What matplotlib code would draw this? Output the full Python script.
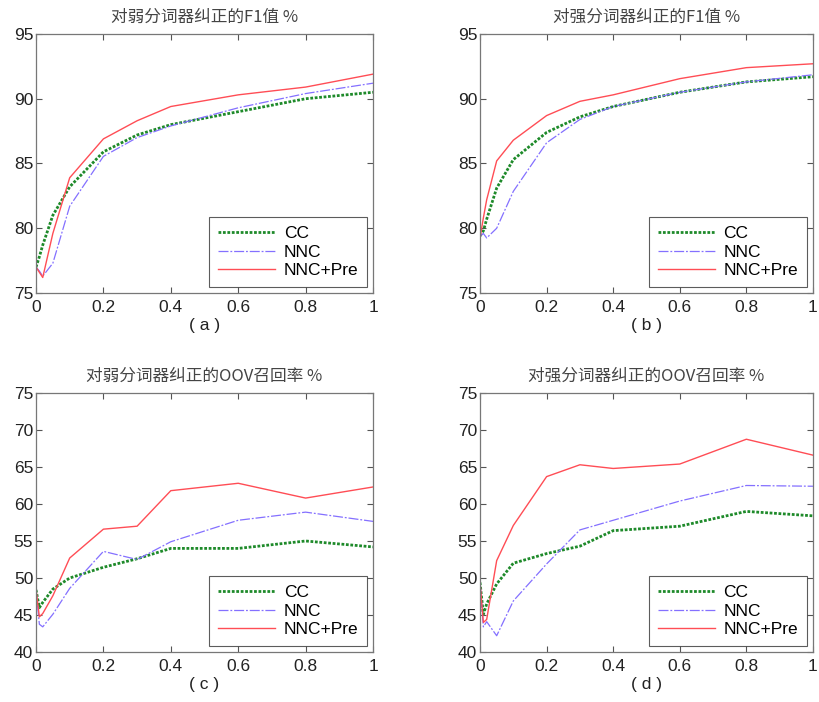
import numpy as np
import matplotlib
matplotlib.use('Agg')
import matplotlib.pyplot as plt

plt.rcParams['font.family'] = ['Liberation Sans', 'Noto Sans CJK SC', 'DejaVu Sans']

# x positions (proportion of data)
x = [0, 0.01, 0.02, 0.05, 0.1, 0.2, 0.3, 0.4, 0.6, 0.8, 1.0]

# (a) F1 on weak segmenter
a_cc = [77.0, 77.8, 78.7, 81.0, 83.2, 85.9, 87.2, 88.0, 89.0, 90.0, 90.5]
a_nnc = [77.0, 76.7, 76.3, 77.3, 81.7, 85.55, 87.0, 87.9, 89.3, 90.4, 91.2]
a_pre = [77.0, 76.6, 76.2, 79.6, 83.9, 86.9, 88.3, 89.4, 90.3, 90.9, 91.9]

# (b) F1 on strong segmenter
b_cc = [79.4, 79.8, 80.7, 83.1, 85.3, 87.4, 88.6, 89.4, 90.5, 91.3, 91.7]
b_nnc = [79.4, 79.6, 79.25, 80.0, 82.85, 86.6, 88.4, 89.4, 90.5, 91.3, 91.85]
b_pre = [79.25, 80.8, 82.2, 85.2, 86.8, 88.7, 89.8, 90.3, 91.55, 92.4, 92.7]

# (c) OOV recall on weak segmenter
c_cc = [48.4, 46.0, 46.7, 48.5, 50.0, 51.45, 52.6, 54.0, 54.0, 55.0, 54.2]
c_nnc = [48.4, 43.75, 43.4, 45.1, 48.6, 53.6, 52.5, 54.9, 57.8, 58.9, 57.65]
c_pre = [48.5, 44.75, 45.2, 47.6, 52.7, 56.6, 57.0, 61.8, 62.8, 60.8, 62.3]

# (d) OOV recall on strong segmenter
d_cc = [49.4, 45.1, 46.5, 49.2, 52.0, 53.3, 54.3, 56.4, 57.0, 59.0, 58.4]
d_nnc = [49.4, 43.4, 44.1, 42.2, 46.9, 51.9, 56.5, 57.8, 60.4, 62.5, 62.4]
d_pre = [49.4, 44.0, 44.4, 52.35, 57.1, 63.7, 65.3, 64.8, 65.4, 68.75, 66.6]

titles = ['对弱分词器纠正的F1值 %', '对强分词器纠正的F1值 %',
          '对弱分词器纠正的OOV召回率 %', '对强分词器纠正的OOV召回率 %']
labels = ['( a )', '( b )', '( c )', '( d )']
series = [(a_cc, a_nnc, a_pre), (b_cc, b_nnc, b_pre),
          (c_cc, c_nnc, c_pre), (d_cc, d_nnc, d_pre)]
ylims = [(75, 95), (75, 95), (40, 75), (40, 75)]
yticks = [np.arange(75, 96, 5), np.arange(75, 96, 5),
          np.arange(40, 76, 5), np.arange(40, 76, 5)]

# axes rectangles in figure fraction
rects = [[0.0439, 0.5826, 0.411, 0.369], [0.5854, 0.5826, 0.406, 0.369],
         [0.0439, 0.0712, 0.411, 0.369], [0.5854, 0.0712, 0.406, 0.369]]

fig = plt.figure(figsize=(8.2, 7.02), dpi=100)

for i in range(4):
    ax = fig.add_axes(rects[i])
    cc, nnc, pre = series[i]
    ax.plot(x, cc, color='#1e8a2a', linestyle=(0, (1, 0.6)), linewidth=2.0, label='CC')
    ax.plot(x, nnc, color='#8470ff', linestyle=(0, (8, 1.5, 1.5, 1.5)), linewidth=0.9, label='NNC')
    ax.plot(x, pre, color='#ff4d55', linestyle='-', linewidth=1.0, label='NNC+Pre')
    ax.set_xlim(0, 1)
    ax.set_ylim(*ylims[i])
    ax.set_xticks([0, 0.2, 0.4, 0.6, 0.8, 1])
    ax.set_xticklabels(['0', '0.2', '0.4', '0.6', '0.8', '1'])
    ax.set_yticks(yticks[i])
    ax.tick_params(direction='in', top=True, right=True, length=4,
                   color='#555555', labelsize=12.5, labelcolor='#222222')
    ax.tick_params(axis='x', pad=5)
    ax.tick_params(axis='y', pad=2)
    for sp in ax.spines.values():
        sp.set_color('#777777')
        sp.set_linewidth(0.9)
    ax.set_title(titles[i], fontsize=12, color='#444444', pad=9,
                 family=['Noto Sans CJK SC', 'DejaVu Sans'])
    ax.set_xlabel(labels[i], fontsize=12.5, color='#222222', labelpad=2)
    leg = ax.legend(loc='lower right', fontsize=12.5, frameon=True, fancybox=False,
                    borderaxespad=0.35, handlelength=3.3, handletextpad=0.5,
                    labelspacing=0.2, borderpad=0.5)
    leg.get_frame().set_edgecolor('#333333')
    leg.get_frame().set_linewidth(0.8)

fig.savefig('out.png', dpi=100)
